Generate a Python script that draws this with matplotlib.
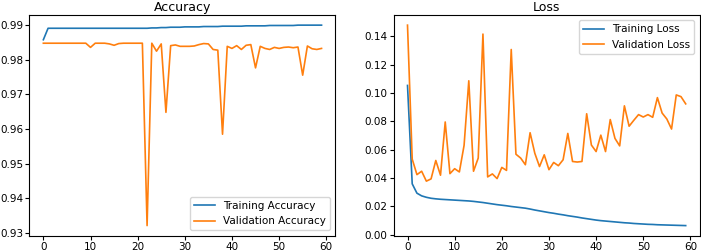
import numpy as np
import matplotlib
matplotlib.use("Agg")
import matplotlib.pyplot as plt

# training history values (60 epochs)
epochs = np.arange(60)

train_acc = [0.9857, 0.9890, 0.9890, 0.9890, 0.9890, 0.9890, 0.9890, 0.9890, 0.9890, 0.9890,
             0.9890, 0.9890, 0.9890, 0.9890, 0.9890, 0.9890, 0.9890, 0.9890, 0.9890, 0.9890,
             0.9890, 0.9890, 0.9890, 0.9891, 0.9891, 0.9892, 0.9892, 0.9893, 0.9893, 0.9893,
             0.9894, 0.9894, 0.9894, 0.9894, 0.9895, 0.9895, 0.9895, 0.9895, 0.9896, 0.9896,
             0.9896, 0.9896, 0.9896, 0.9897, 0.9897, 0.9897, 0.9897, 0.9897, 0.9898, 0.9898,
             0.9898, 0.9898, 0.9898, 0.9898, 0.9899, 0.9899, 0.9899, 0.9899, 0.9899, 0.9899]

val_acc = [0.9847, 0.9847, 0.9847, 0.9847, 0.9847, 0.9847, 0.9847, 0.9847, 0.9847, 0.9847,
           0.9835, 0.9847, 0.9847, 0.9847, 0.9845, 0.9841, 0.9846, 0.9847, 0.9847, 0.9847,
           0.9847, 0.9847, 0.9322, 0.9847, 0.9824, 0.9845, 0.9648, 0.9840, 0.9842, 0.9838,
           0.9838, 0.9838, 0.9839, 0.9843, 0.9846, 0.9845, 0.9829, 0.9827, 0.9585, 0.9838,
           0.9832, 0.9840, 0.9829, 0.9841, 0.9843, 0.9776, 0.9838, 0.9832, 0.9829, 0.9835,
           0.9832, 0.9835, 0.9836, 0.9834, 0.9836, 0.9755, 0.9839, 0.9831, 0.9829, 0.9832]

train_loss = [0.1053, 0.0358, 0.0292, 0.0273, 0.0263, 0.0256, 0.0252, 0.0249, 0.0247, 0.0245,
              0.0243, 0.0241, 0.0239, 0.0237, 0.0234, 0.0230, 0.0226, 0.0221, 0.0216, 0.0211,
              0.0207, 0.0203, 0.0198, 0.0194, 0.0190, 0.0186, 0.0180, 0.0173, 0.0167, 0.0161,
              0.0155, 0.0150, 0.0144, 0.0139, 0.0133, 0.0128, 0.0123, 0.0117, 0.0112, 0.0107,
              0.0102, 0.0098, 0.0095, 0.0092, 0.0089, 0.0086, 0.0083, 0.0081, 0.0078, 0.0076,
              0.0074, 0.0072, 0.0071, 0.0069, 0.0068, 0.0067, 0.0066, 0.0065, 0.0064, 0.0063]

val_loss = [0.1479, 0.0533, 0.0423, 0.0447, 0.0377, 0.0393, 0.0523, 0.0419, 0.0795, 0.0430,
            0.0465, 0.0442, 0.0630, 0.1086, 0.0447, 0.0540, 0.1416, 0.0407, 0.0428, 0.0395,
            0.0474, 0.0453, 0.1307, 0.0567, 0.0540, 0.0493, 0.0719, 0.0574, 0.0480, 0.0563,
            0.0458, 0.0509, 0.0486, 0.0528, 0.0714, 0.0516, 0.0512, 0.0516, 0.0853, 0.0632,
            0.0586, 0.0702, 0.0586, 0.0812, 0.0679, 0.0626, 0.0909, 0.0765, 0.0807, 0.0847,
            0.0830, 0.0847, 0.0828, 0.0967, 0.0858, 0.0816, 0.0745, 0.0986, 0.0974, 0.0923]

plt.rcParams["font.size"] = 7.5

fig, (ax1, ax2) = plt.subplots(1, 2, figsize=(7.01, 2.52), dpi=100)
fig.subplots_adjust(left=0.042, right=0.998, top=0.94, bottom=0.065, wspace=0.19)

ax1.plot(epochs, train_acc, lw=1.2, label="Training Accuracy")
ax1.plot(epochs, val_acc, lw=1.2, label="Validation Accuracy")
ax1.set_title("Accuracy", fontsize=9, pad=3)
ax1.legend(loc="lower right")

ax2.plot(epochs, train_loss, lw=1.2, label="Training Loss")
ax2.plot(epochs, val_loss, lw=1.2, label="Validation Loss")
ax2.set_title("Loss", fontsize=9, pad=3)
ax2.legend(loc="upper right")

for ax in (ax1, ax2):
    ax.tick_params(pad=1.5, length=3)

fig.savefig("out.png", dpi=100)
